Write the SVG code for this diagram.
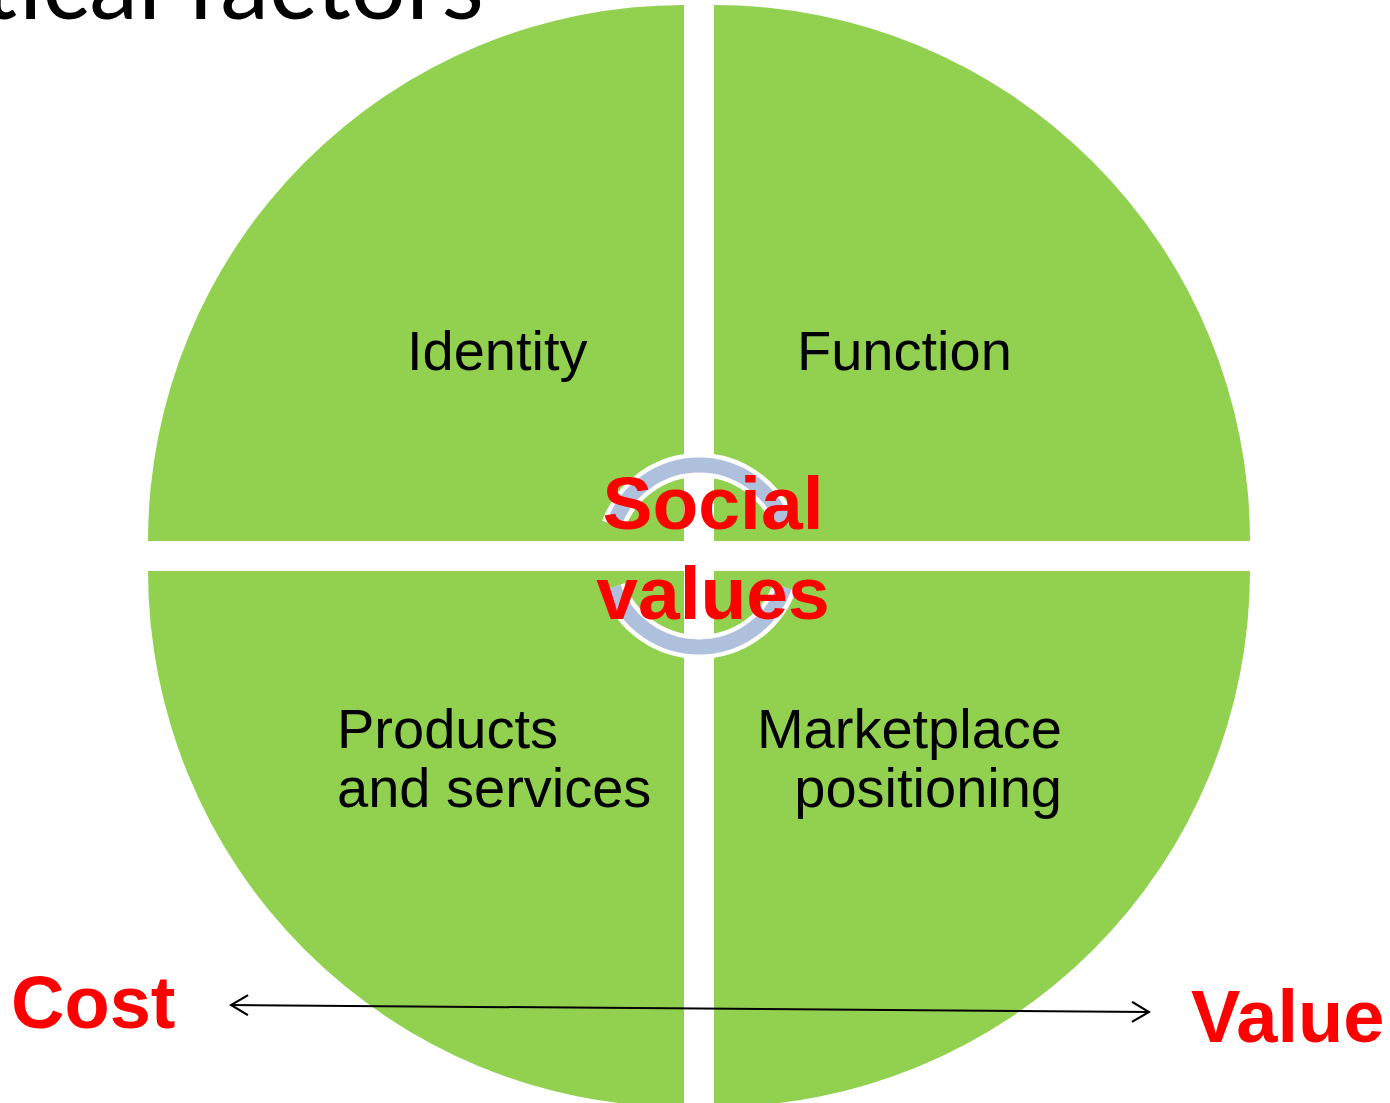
<svg xmlns="http://www.w3.org/2000/svg" width="1390" height="1103" viewBox="0 0 1390 1103">
<style>
.quad{fill:#92D050;}
.lbl{font-family:"Liberation Sans",Arial,sans-serif;font-size:56px;fill:#000;}
.red{font-family:"Liberation Sans",Arial,sans-serif;font-weight:bold;fill:#FF0000;}
.ringbg{fill:none;stroke:#FFFFFF;stroke-width:24;}
.ring{fill:none;stroke:#AFC0DD;stroke-width:15;}
</style>
<defs>
<marker id="arr" viewBox="0 0 20 22" refX="18" refY="11" markerWidth="20" markerHeight="22" markerUnits="userSpaceOnUse" orient="auto-start-reverse">
<path d="M1,1 L18,11 L1,21" fill="none" stroke="#000" stroke-width="2.2"/>
</marker>
</defs>
<rect width="1390" height="1103" fill="#FFFFFF"/>
<text x="484" y="19" font-family="Lato,'Open Sans',sans-serif" font-size="98" fill="#000" text-anchor="end">Critical factors</text>
<g id="identity">
<path class="quad" d="M684,541 L148,541 A536,536 0 0 1 684,5 Z"/>
<text class="lbl" x="407" y="370">Identity</text>
</g>
<g id="function">
<path class="quad" d="M714,541 L714,5 A536,536 0 0 1 1250,541 Z"/>
<text class="lbl" x="797" y="370">Function</text>
</g>
<g id="products">
<path class="quad" d="M684,571 L684,1107 A536,536 0 0 1 148,571 Z"/>
<text class="lbl" x="337" y="748">Products</text>
<text class="lbl" x="337" y="807">and services</text>
</g>
<g id="marketplace">
<path class="quad" d="M714,571 L1250,571 A536,536 0 0 1 714,1107 Z"/>
<text class="lbl" x="1062" y="748" text-anchor="end">Marketplace</text>
<text class="lbl" x="1062" y="807" text-anchor="end">positioning</text>
</g>
<g id="social-values">
<path class="ringbg" d="M613.5,524.9 A91,91 0 0 1 784.5,524.9"/>
<path class="ringbg" d="M784.5,587.1 A91,91 0 0 1 613.5,587.1"/>
<path class="ring" d="M613.5,524.9 A91,91 0 0 1 784.5,524.9"/>
<path class="ring" d="M784.5,587.1 A91,91 0 0 1 613.5,587.1"/>
<text class="red" x="713" y="529" font-size="75" text-anchor="middle">Social</text>
<text class="red" x="713" y="619" font-size="75" text-anchor="middle">values</text>
</g>
<g id="cost">
<text class="red" x="11" y="1028" font-size="74">Cost</text>
</g>
<g id="value">
<text class="red" x="1191" y="1042" font-size="74">Value</text>
</g>
<g id="connectors">
<line x1="231" y1="1005" x2="1149" y2="1012" stroke="#000" stroke-width="2" marker-start="url(#arr)" marker-end="url(#arr)"/>
</g>
</svg>
